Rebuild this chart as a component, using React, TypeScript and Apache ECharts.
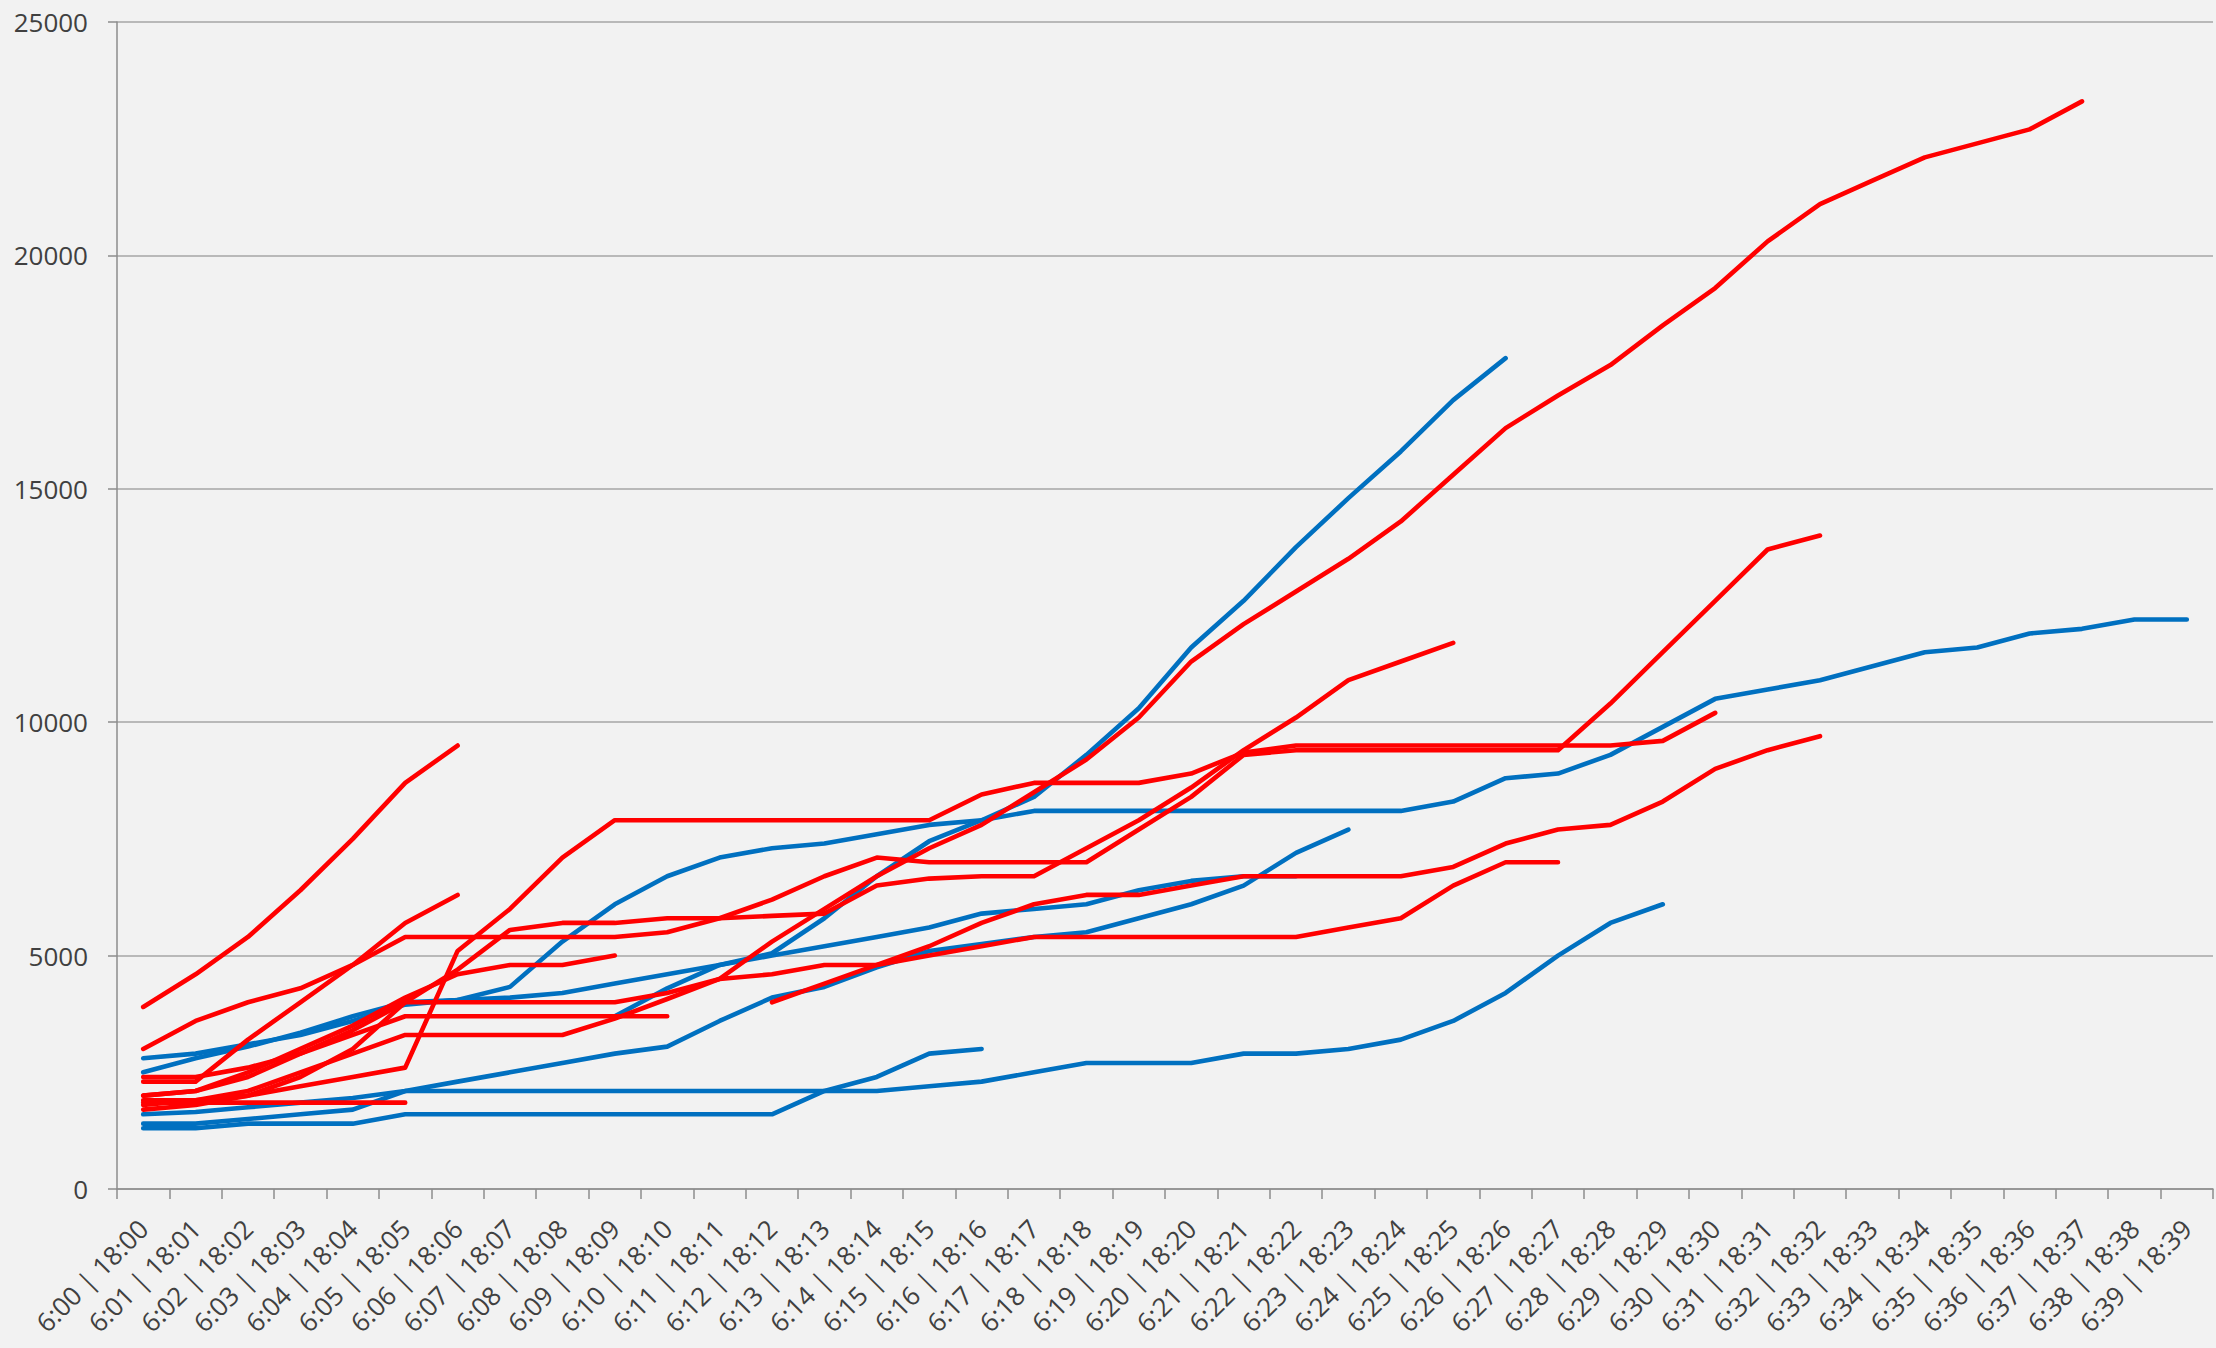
import React, { useEffect, useRef } from "react";
import * as echarts from "echarts";

const categories = [
  "6:00 | 18:00", "6:01 | 18:01", "6:02 | 18:02", "6:03 | 18:03", "6:04 | 18:04",
  "6:05 | 18:05", "6:06 | 18:06", "6:07 | 18:07", "6:08 | 18:08", "6:09 | 18:09",
  "6:10 | 18:10", "6:11 | 18:11", "6:12 | 18:12", "6:13 | 18:13", "6:14 | 18:14",
  "6:15 | 18:15", "6:16 | 18:16", "6:17 | 18:17", "6:18 | 18:18", "6:19 | 18:19",
  "6:20 | 18:20", "6:21 | 18:21", "6:22 | 18:22", "6:23 | 18:23", "6:24 | 18:24",
  "6:25 | 18:25", "6:26 | 18:26", "6:27 | 18:27", "6:28 | 18:28", "6:29 | 18:29",
  "6:30 | 18:30", "6:31 | 18:31", "6:32 | 18:32", "6:33 | 18:33", "6:34 | 18:34",
  "6:35 | 18:35", "6:36 | 18:36", "6:37 | 18:37", "6:38 | 18:38", "6:39 | 18:39",
];

const yTicks = { min: 0, max: 25000, step: 5000 };

// Blue series (value list, first category index)
const blue1 = [3700, 4300, 4800, 5050, 5800, 6700, 7450, 7900, 8400, 9300, 10300, 11600, 12600, 13750, 14800, 15800, 16900, 17800];
const blue1Start = 9;
const blue2 = [2500, 2800, 3050, 3350, 3700, 4000, 4050, 4330, 5300, 6100, 6700, 7100, 7300, 7400, 7600, 7800, 7900, 8100, 8100, 8100, 8100, 8100, 8100, 8100, 8100, 8300, 8800, 8900, 9300, 9900, 10500, 10700, 10900, 11200, 11500, 11600, 11900, 12000, 12200, 12200];
const blue3 = [1400, 1400, 1500, 1600, 1700, 2100, 2100, 2100, 2100, 2100, 2100, 2100, 2100, 2100, 2100, 2200, 2300, 2500, 2700, 2700, 2700, 2900, 2900, 3000, 3200, 3600, 4200, 5000, 5700, 6100];
const blue4 = [1300, 1300, 1400, 1400, 1400, 1600, 1600, 1600, 1600, 1600, 1600, 1600, 1600, 2100, 2400, 2900, 3000];
const blue5 = [1600, 1650, 1750, 1850, 1950, 2100, 2300, 2500, 2700, 2900, 3050, 3600, 4100, 4330, 4750, 5100, 5250, 5400, 5500, 5800, 6100, 6500, 7200, 7700];
const blue6 = [2800, 2900, 3100, 3300, 3600, 3950, 4050, 4100, 4200, 4400, 4600, 4800, 5000, 5200, 5400, 5600, 5900, 6000, 6100, 6400, 6600, 6700, 6700];

// Red series
const redA = [3900, 4600, 5400, 6400, 7500, 8700, 9500];
const redB = [3000, 3600, 4000, 4300, 4800, 5700, 6300];
const redC = [2300, 2300, 3200, 4000, 4800, 5400, 5400, 5400, 5400, 5400, 5500, 5800, 6200, 6700, 7100, 7000, 7000, 7000, 7000, 7700, 8400, 9300, 9400, 9400, 9400, 9400, 9400, 9400, 10400, 11500, 12600, 13700, 14000];
const redD = [1900, 1900, 2000, 2200, 2400, 2600, 5100, 6000, 7100, 7900, 7900, 7900, 7900, 7900, 7900, 7900, 8450, 8700, 8700, 8700, 8900, 9350, 9500, 9500, 9500, 9500, 9500, 9500, 9500, 9600, 10200];
const redE = [2000, 2100, 2400, 2900, 3400, 4000, 4700, 5550, 5700, 5700, 5800, 5800, 5850, 5900, 6500, 6650, 6700, 6700, 7300, 7900, 8600, 9400, 10100, 10900, 11300, 11700];
const redF = [1800, 1900, 2100, 2500, 2900, 3300, 3300, 3300, 3300, 3650, 4070, 4500, 5300, 6000, 6700, 7300, 7800, 8500, 9200, 10100, 11300, 12100, 12800, 13500, 14300, 15300, 16300, 17000, 17650, 18500, 19300, 20300, 21100, 21600, 22100, 22400, 22700, 23300];
const redG = [2400, 2400, 2600, 2900, 3300, 3700, 3700, 3700, 3700, 3700, 3700];
const redH = [2000, 2100, 2500, 3000, 3500, 4100, 4600, 4800, 4800, 5000];
const redI = [1850, 1850, 1850, 1850, 1850, 1850];
const redJ = [1700, 1800, 2000, 2400, 3000, 4000, 4000, 4000, 4000, 4000, 4200, 4500, 4600, 4800, 4800, 5000, 5200, 5400, 5400, 5400, 5400, 5400, 5400, 5600, 5800, 6500, 7000, 7000];
const redK = [4000, 4400, 4800, 5200, 5700, 6100, 6300, 6300, 6500, 6700, 6700, 6700, 6700, 6900, 7400, 7700, 7800, 8300, 9000, 9400, 9700];
const redKStart = 12;

const BLUE = "#0070C0";
const RED = "#FF0000";

const pad = (vals: number[], start: number) =>
  categories.map((_, i) => (i >= start && i < start + vals.length ? vals[i - start] : null));

const blueList: [number[], number][] = [
  [blue4, 0], [blue3, 0], [blue5, 0], [blue6, 0], [blue2, 0], [blue1, blue1Start],
];
const redList: [number[], number][] = [
  [redI, 0], [redJ, 0], [redH, 0], [redG, 0], [redE, 0], [redF, 0], [redD, 0],
  [redC, 0], [redB, 0], [redA, 0], [redK, redKStart],
];

export default function App() {
  const ref = useRef<HTMLDivElement>(null);
  useEffect(() => {
    if (!ref.current) return;
    const chart = echarts.init(ref.current, undefined, { renderer: "svg" });
    const mk = (vals: number[], start: number, color: string, idx: number) => ({
      type: "line",
      name: (color === BLUE ? "B" : "R") + idx,
      data: pad(vals, start),
      showSymbol: false,
      symbol: "none",
      connectNulls: false,
      lineStyle: { color, width: 4.6, cap: "round", join: "round" },
      itemStyle: { color },
      emphasis: { disabled: true },
    });
    const series = [
      ...blueList.map(([v, s], i) => mk(v, s, BLUE, i)),
      ...redList.map(([v, s], i) => mk(v, s, RED, i)),
    ];
    chart.setOption({
      animation: false,
      backgroundColor: "#F2F2F2",
      grid: { left: 117, right: 3, top: 22, bottom: 159, containLabel: false },
      xAxis: {
        type: "category",
        data: categories,
        boundaryGap: true,
        axisLine: { show: true, lineStyle: { color: "#8C8C8C", width: 1.5 } },
        axisTick: { show: true, interval: 0, length: 10, lineStyle: { color: "#8C8C8C", width: 1.5 } },
        axisLabel: {
          interval: 0,
          rotate: 45,
          fontSize: 26,
          color: "#404040",
          fontFamily: "Open Sans",
          margin: 35,
        },
        splitLine: { show: false },
      },
      yAxis: {
        type: "value",
        min: yTicks.min,
        max: yTicks.max,
        interval: yTicks.step,
        axisLine: { show: true, lineStyle: { color: "#8C8C8C", width: 1.5 } },
        axisTick: { show: true, length: 9, lineStyle: { color: "#8C8C8C", width: 1.5 } },
        axisLabel: {
          fontSize: 26,
          color: "#404040",
          fontFamily: "Open Sans",
          margin: 29,
          formatter: (v: number) => String(v),
        },
        splitLine: { show: true, lineStyle: { color: "#A6A6A6", width: 1.5 } },
      },
      series,
    });
    return () => chart.dispose();
  }, []);
  return (
    <div
      ref={ref}
      style={{ position: "fixed", left: 0, top: 0, width: 2216, height: 1348 }}
    />
  );
}
